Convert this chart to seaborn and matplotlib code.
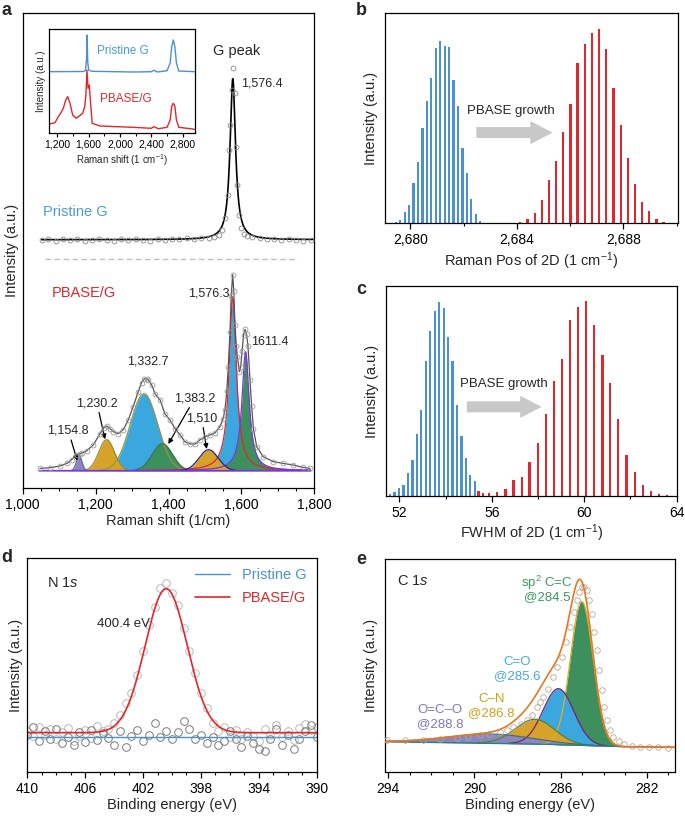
import numpy as np
import matplotlib
matplotlib.use('Agg')
import matplotlib.pyplot as plt
from matplotlib.patches import FancyArrow
from matplotlib.ticker import FuncFormatter, MultipleLocator, FixedLocator
import seaborn as sns

# 1. Style ----------------------------------------------------------------------
sns.set_style('ticks')
plt.rcParams['font.family'] = ['Liberation Sans', 'DejaVu Sans']
plt.rcParams['mathtext.fontset'] = 'custom'
plt.rcParams['mathtext.rm'] = 'Liberation Sans'
plt.rcParams['mathtext.it'] = 'Liberation Sans:italic'
plt.rcParams['axes.linewidth'] = 0.9
plt.rcParams['axes.edgecolor'] = 'black'
plt.rcParams['xtick.color'] = 'black'
plt.rcParams['xtick.major.size'] = 4.5
plt.rcParams['xtick.minor.size'] = 2.5
plt.rcParams['xtick.major.width'] = 0.9
plt.rcParams['xtick.minor.width'] = 0.8
plt.rcParams['xtick.labelsize'] = 10
plt.rcParams['axes.labelsize'] = 10.5

BLUE = '#4a90d2'
RED = '#e2262b'
TXT_BLUE = '#4d9bd6'
F_BLUE = '#3aa7de'
F_GREEN = '#3d8f5e'
F_GOLD = '#d6a32a'
F_PURPLE = '#8b87bd'
GRAY_ARROW = '#c8c8c8'

# 2. Data -----------------------------------------------------------------------

# a: fitted Raman components of PBASE/G (centre, height, fwhm, shape)
A_POS = [1154.8, 1230.2, 1332.7, 1383.2, 1510.0, 1576.3, 1611.4]
A_HEIGHT = [15, 31, 77, 27, 21, 174, 119]
A_FWHM = [18, 50, 88, 65, 62, 24, 24]
A_SHAPE = ['g', 'g', 'g', 'g', 'g', 'l', 'l']
A_LABELS = ['1,154.8', '1,230.2', '1,332.7', '1,383.2', '1,510', '1,576.3', '1611.4']

# a: measured PBASE/G spectrum
PB_X = [1047.5, 1075, 1102, 1121, 1134, 1148, 1156, 1162, 1176, 1194, 1212, 1222,
        1231, 1240, 1249, 1262, 1276, 1290, 1303, 1317, 1326, 1334, 1340, 1345,
        1354, 1363, 1377, 1390, 1404, 1418, 1432, 1445, 1459, 1473, 1486, 1500,
        1514, 1528, 1541, 1550, 1555, 1560, 1564, 1568.7, 1572, 1576.1, 1579,
        1582.4, 1586, 1589, 1594.3, 1598, 1602, 1606, 1610, 1614, 1618, 1623.6,
        1628, 1633, 1642, 1660, 1688, 1715, 1742, 1770, 1788]
PB_Y = [2.3, 3, 4.7, 7.3, 11, 15.7, 17, 17.5, 20, 26, 37, 43,
        44.7, 42, 39, 37, 41, 51, 64, 79, 88, 92, 92, 90.7,
        85.7, 77, 70.7, 57, 50.7, 42, 35.7, 29, 26.7, 26.7, 30.7, 34,
        35.7, 38, 44, 52, 61, 80, 104, 139, 175, 196, 180,
        145.7, 125, 114, 99, 104, 120, 136, 141.3, 137, 125, 90.7,
        65, 42, 24, 14, 9, 7.3, 5.7, 3.3, 2.3]

# a: pristine graphene G band (fit) and measured points
PRIS_OFFSET = 231
PRIS_POS, PRIS_HEIGHT, PRIS_FWHM = 1576.4, 161, 18
PR_X = [1052, 1070, 1090, 1110, 1130, 1150, 1170, 1190, 1210, 1230, 1250, 1270,
        1290, 1310, 1330, 1350, 1370, 1390, 1410, 1430, 1450, 1470, 1490, 1510,
        1525, 1538, 1548, 1556, 1562, 1566, 1570, 1574, 1577.8, 1582.4, 1585,
        1588.7, 1593, 1598, 1606, 1616, 1630, 1650, 1670, 1690, 1710, 1730,
        1750, 1770, 1790]
PR_Y = [0, 1, -1, 1, 0, 1, -1, 0, 1, 0, -1, 1,
        0, 1, 0, -1, 1, 0, 1, 1, 2, 1, 2, 2,
        3, 5, 10, 22, 45, 90, 115, 150, 172, 147, 93,
        55, 25, 12, 6, 4, 3, 2, 1, 1, 0, 1,
        0, -1, 0]
SEP_Y = 212

# a inset: full spectra
IN_PR_X = [1100, 1530, 1560, 1572, 1580, 1588, 1600, 1640, 2170, 2400, 2430, 2450,
           2480, 2600, 2640, 2660, 2680, 2700, 2720, 2750, 2955]
IN_PR_Y = [68.3, 68.5, 69.5, 80, 105, 78, 70, 68.7, 68, 68.3, 69.7, 69,
           68, 69.3, 77, 93.3, 100, 93.3, 77, 69, 68.3]
IN_PB_X = [1100, 1170, 1213, 1247, 1277, 1307, 1333, 1362, 1396, 1440, 1480, 1524,
           1550, 1565, 1578, 1592, 1608, 1625, 1645, 1745, 2160, 2400, 2430, 2490,
           2600, 2640, 2660, 2680, 2700, 2720, 2750, 2955]
IN_PB_Y = [16, 17.3, 23.3, 27.3, 31.7, 40, 43.3, 36.7, 25, 21.7, 24, 26.7,
           33.3, 45, 70, 51.7, 55, 36.7, 16.7, 14, 12.7, 11.7, 13.3, 11.3,
           12.7, 20, 34, 36.7, 34, 20, 12.7, 10.7]

# b: 2D position histograms
B_PR_POS = [2679.29, 2679.46, 2679.62, 2679.79, 2679.96, 2680.12, 2680.29, 2680.46,
            2680.62, 2680.79, 2680.96, 2681.12, 2681.29, 2681.46, 2681.62, 2681.79,
            2681.96, 2682.12, 2682.29, 2682.46, 2682.62, 2682.79]
B_PR_CNT = [3, 6, 12, 35, 55, 122, 186, 288, 368, 438, 526, 548, 532, 530, 431, 353,
            226, 152, 73, 28, 8, 1]
B_PB_POS = [2683.86, 2684.13, 2684.40, 2684.67, 2684.94, 2685.21, 2685.47, 2685.74,
            2686.01, 2686.28, 2686.55, 2686.82, 2687.09, 2687.36, 2687.63, 2687.90,
            2688.17, 2688.43, 2688.70, 2688.97, 2689.24, 2689.51, 2689.78]
B_PB_CNT = [2, 4, 13, 33, 71, 130, 188, 276, 358, 483, 538, 571, 583, 523, 408, 296,
            198, 118, 66, 38, 15, 6, 2]

# c: 2D FWHM histograms
C_PR_POS = [51.60, 51.79, 51.99, 52.18, 52.37, 52.57, 52.76, 52.95, 53.14, 53.34,
            53.53, 53.72, 53.92, 54.11, 54.30, 54.50, 54.69, 54.88, 55.07, 55.27]
C_PR_CNT = [5, 11, 25, 32, 70, 109, 187, 259, 405, 493, 554, 582, 562, 477, 405, 274,
            179, 114, 62, 44]
C_PB_POS = [55.42, 55.62, 55.88, 56.24, 56.59, 56.94, 57.30, 57.64, 57.99, 58.34,
            58.68, 59.03, 59.39, 59.74, 60.08, 60.43, 60.79, 61.13, 61.48, 61.84,
            62.19, 62.54, 62.88, 63.23, 63.58]
C_PB_CNT = [15, 8, 8, 13, 20, 48, 57, 101, 158, 247, 345, 411, 528, 565, 583, 512,
            421, 339, 231, 123, 71, 33, 16, 5, 2]

# d: N 1s XPS
D_BE = list(np.round(np.arange(410.0, 389.9, -0.4), 1))
D_PB_Y = [2, -3, 6, -2, 4, -6, 1, 5, -8, -3, 3, -5, 7, 2, 4, 10, 18, 30, 40, 58, 82,
          108, 126, 145, 150, 140, 128, 105, 82, 60, 40, 25, 10, 2, 6, -4, 3, -6, 1,
          -3, -8, 4, -2, 8, -4, 2, -7, 5, 9, 3, 6]
D_PR_Y = [-2, 6, -8, 2, -6, 4, -10, -4, -12, 1, -9, 3, -7, 0, -5, -12, 2, -14, -3, 3,
          -8, -2, 10, -4, 2, -6, 1, 12, 4, -6, -2, -10, -4, -12, -8, 2, -6, -14, -3,
          -10, -16, -18, -6, 4, -12, -2, -16, -6, 2, 8, -4]
D_POS, D_HEIGHT, D_SIGMA = 400.4, 144, 1.45
D_PR_LEVEL = -4
D_TICKS = [410, 406, 402, 398, 394, 390]

# e: C 1s XPS components (centre, height, half width at half max)
E_NAMES = ['O=C–O', 'C–N', 'C=O', 'sp$^2$ C=C']
E_POS = [289.28, 287.19, 286.10, 285.02]
E_HEIGHT = [9.3, 24.7, 56, 144]
E_HWHM = [2.3, 1.07, 0.84, 0.62]
E_TAGS = ['@288.8', '@286.8', '@285.6', '@284.5']
E_BG_BE = [294.15, 287.1, 283.1, 280.7]
E_BG_Y = [5.6, 3.3, 0.6, 0.0]
E_DATA_BE = [294.07, 293.2, 292.37, 291.6, 290.82, 290.3, 289.74, 289.3, 288.81,
             288.5, 288.19, 287.85, 287.57, 287.35, 287.11, 286.95, 286.80, 286.6,
             286.34, 286.15, 285.95, 285.75, 285.56, 285.4, 285.25, 285.13, 285.02,
             284.9, 284.79, 284.67, 284.55, 284.43, 284.32, 284.2, 284.09, 283.97,
             283.86, 283.7, 283.55, 283.3, 283.08, 282.7, 282.31, 281.9, 281.5,
             281.0]
E_DATA_Y = [7, 7.5, 7.7, 8.5, 9.7, 10.5, 12, 13.5, 15.3,
            17.5, 20.3, 23, 27, 32, 40.3, 45, 50.3, 58,
            70.3, 80, 90.3, 105, 120.3, 135, 147, 155, 160.3,
            160, 157, 147, 133.7, 115, 97, 77, 57, 40,
            27, 17, 10.3, 6, 3, 1.5, 0.3, 0.5, 0,
            -1]
E_TICKS = [294, 290, 286, 282]


def gauss(x, c, h, fwhm):
    return h * np.exp(-4 * np.log(2) * ((x - c) / fwhm) ** 2)


def lorentz(x, c, h, fwhm):
    return h / (1 + ((x - c) / (fwhm / 2)) ** 2)


def comma(v, p):
    return f'{v:,.0f}'


# 3. Figure ---------------------------------------------------------------------
W, H = 685, 819
fig = plt.figure(figsize=(W / 100, H / 100), dpi=100)


def box(l, t, r, b):
    return [l / W, 1 - b / H, (r - l) / W, (b - t) / H]


def letter(x, y, s):
    fig.text(x / W, 1 - y / H, s, fontsize=13, fontweight='bold', va='top', ha='left')


def bottom_ticks(ax):
    ax.tick_params(axis='x', which='both', direction='out', top=False, bottom=True, pad=2.5)
    ax.tick_params(axis='y', which='both', left=False, right=False, labelleft=False)


# ---- panel a
ax = fig.add_axes(box(22.7, 13, 314.3, 488))
xa = np.linspace(1045, 1790, 1500)
comps = []
for c, h, w, s in zip(A_POS, A_HEIGHT, A_FWHM, A_SHAPE):
    comps.append(gauss(xa, c, h, w) if s == 'g' else lorentz(xa, c, h, w))
fills = [F_PURPLE, F_GOLD, F_BLUE, F_GREEN, F_GOLD, F_BLUE, F_GREEN]
edges = ['#6c6a9c', '#9a8a30', '#8c9a40', '#3f6e46', '#23238f', RED, '#7d34e0']
for i in [2, 1, 3, 0, 5, 6, 4]:
    ax.fill_between(xa, 0, comps[i], color=fills[i], lw=0, zorder=2)
    ax.plot(xa, np.ma.masked_less(comps[i], 0.4), color=edges[i], lw=0.9, zorder=2.5)
sns.lineplot(x=xa, y=np.zeros_like(xa), ax=ax, color='#7d34e0', lw=1.2, zorder=3)
sns.lineplot(x=PB_X, y=PB_Y, ax=ax, color='#555555', lw=0.9, zorder=4,
             estimator=None, sort=False)
sns.lineplot(x=PB_X, y=PB_Y, ax=ax, marker='o', ls='', mfc='none', mec='#9a9a9a',
             ms=3.5, mew=0.6, zorder=5, estimator=None, sort=False)

xp = np.linspace(1052, 1800, 1500)
sns.lineplot(x=xp, y=PRIS_OFFSET + lorentz(xp, PRIS_POS, PRIS_HEIGHT, PRIS_FWHM), ax=ax,
             color='black', lw=1.2, zorder=4)
sns.lineplot(x=PR_X, y=np.array(PR_Y) + PRIS_OFFSET, ax=ax, marker='o', ls='', mfc='none',
             mec='#8a8a8a', ms=3.5, mew=0.6, zorder=5, estimator=None, sort=False)
ax.plot([1061, 1756], [SEP_Y, SEP_Y], color='#c0c0c0', lw=1.0, ls=(0, (4, 2.5)))

ax.text(1055.7, 258.7, 'Pristine G', color=TXT_BLUE, fontsize=10.5, va='center')
ax.text(1079.6, 177.4, 'PBASE/G', color=RED, fontsize=10.5, va='center')
ax.text(1522, 419.7, 'G peak', fontsize=10.5, va='center')
ax.text(1598.9, 386.7, '1,576.4', fontsize=9, va='center')
ax.text(1568.7, 177.4, A_LABELS[5], fontsize=9, va='center', ha='right')
ax.text(1625.5, 129, A_LABELS[6], fontsize=9, va='center')
ax.text(1344.6, 109, A_LABELS[2], fontsize=9, va='center', ha='center')
arr = dict(arrowstyle='-|>', color='black', lw=0.9, mutation_scale=7, shrinkA=0, shrinkB=0)
ax.annotate(A_LABELS[0], xy=(1149.8, 10), xytext=(1125.1, 40), fontsize=9,
            ha='center', va='center', arrowprops=arr)
ax.annotate(A_LABELS[1], xy=(1225.8, 31.4), xytext=(1203.8, 67.4), fontsize=9,
            ha='center', va='center', arrowprops=arr)
ax.annotate(A_LABELS[3], xy=(1399.5, 26.7), xytext=(1471.9, 72.4), fontsize=9,
            ha='center', va='center', arrowprops=arr)
ax.annotate(A_LABELS[4], xy=(1504.8, 21.7), xytext=(1491.1, 52.4), fontsize=9,
            ha='center', va='center', arrowprops=arr)

ax.set_xlim(1000, 1800)
ax.set_ylim(-17.3, 457.7)
ax.xaxis.set_major_locator(MultipleLocator(200))
ax.xaxis.set_minor_locator(MultipleLocator(50))
ax.xaxis.set_major_formatter(FuncFormatter(comma))
bottom_ticks(ax)
ax.set_xlabel('Raman shift (1/cm)', labelpad=2)
ax.set_ylabel('Intensity (a.u.)', labelpad=3)

# ---- panel a inset
axi = fig.add_axes(box(49, 29, 195, 133))
sns.lineplot(x=IN_PR_X, y=IN_PR_Y, ax=axi, color=BLUE, lw=1.0, estimator=None, sort=False)
sns.lineplot(x=IN_PB_X, y=IN_PB_Y, ax=axi, color=RED, lw=1.0, estimator=None, sort=False)
axi.text(1711, 89.3, 'Pristine G', color=TXT_BLUE, fontsize=8.5, va='center')
axi.text(1750, 41, 'PBASE/G', color=RED, fontsize=8.5, va='center')
axi.set_xlim(1094, 2957)
axi.set_ylim(7, 111)
axi.xaxis.set_major_locator(MultipleLocator(400))
axi.xaxis.set_minor_locator(MultipleLocator(200))
axi.xaxis.set_major_formatter(FuncFormatter(comma))
bottom_ticks(axi)
axi.tick_params(axis='x', which='major', labelsize=7.5, length=3, pad=1.5)
axi.tick_params(axis='x', which='minor', length=1.8)
axi.set_xlabel('Raman shift (1 cm$^{-1}$)', fontsize=7, labelpad=2)
axi.set_ylabel('Intensity (a.u.)', fontsize=7, labelpad=2)

# ---- panel b
ax = fig.add_axes(box(385, 13, 678, 223.5))
ax.bar(B_PR_POS, B_PR_CNT, width=0.08, color=BLUE, lw=0)
ax.bar(B_PB_POS, B_PB_CNT, width=0.085, color=RED, lw=0)
ax.add_patch(FancyArrow(2682.48, 273, 2.86, 0, width=33, head_width=69, head_length=0.83,
                        length_includes_head=True, color=GRAY_ARROW, lw=0))
ax.text(2682.14, 339, 'PBASE growth', fontsize=9.5, va='center')
ax.set_xlim(2679.05, 2690.05)
ax.set_ylim(0, 632)
ax.xaxis.set_major_locator(MultipleLocator(4))
ax.xaxis.set_minor_locator(MultipleLocator(2))
ax.xaxis.set_major_formatter(FuncFormatter(comma))
bottom_ticks(ax)
ax.set_xlabel('Raman Pos of 2D (1 cm$^{-1}$)', labelpad=2)
ax.set_ylabel('Intensity (a.u.)', labelpad=5)

# ---- panel c
ax = fig.add_axes(box(386, 286, 677, 496))
ax.bar(C_PR_POS, C_PR_CNT, width=0.095, color=BLUE, lw=0)
ax.bar(C_PB_POS, C_PB_CNT, width=0.1, color=RED, lw=0)
ax.add_patch(FancyArrow(54.92, 267, 3.24, 0, width=33, head_width=66, head_length=0.93,
                        length_includes_head=True, color=GRAY_ARROW, lw=0))
ax.text(54.63, 335, 'PBASE growth', fontsize=9.5, va='center')
ax.set_xlim(51.42, 64.02)
ax.set_ylim(0, 629)
ax.xaxis.set_major_locator(MultipleLocator(4))
ax.xaxis.set_minor_locator(MultipleLocator(2))
bottom_ticks(ax)
ax.set_xlabel('FWHM of 2D (1 cm$^{-1}$)', labelpad=2)
ax.set_ylabel('Intensity (a.u.)', labelpad=5)

# ---- panel d
ax = fig.add_axes(box(27.3, 558, 316.7, 772))
sns.lineplot(x=D_BE, y=D_PB_Y, ax=ax, marker='o', ls='', mfc='none', mec='#b8b8b8',
             ms=5.5, mew=0.7, estimator=None, sort=False)
sns.lineplot(x=D_BE, y=D_PR_Y, ax=ax, marker='o', ls='', mfc='none', mec='#7a7a7a',
             ms=5.5, mew=0.7, estimator=None, sort=False)
xd = np.linspace(410, 390, 800)
sns.lineplot(x=xd, y=np.full_like(xd, D_PR_LEVEL), ax=ax, color=BLUE, lw=1.0,
             label='Pristine G', sort=False)
sns.lineplot(x=xd, y=D_HEIGHT * np.exp(-0.5 * ((xd - D_POS) / D_SIGMA) ** 2), ax=ax,
             color=RED, lw=1.2, label='PBASE/G', sort=False)
leg = ax.legend(loc='upper right', frameon=False, fontsize=10.5, handlelength=2.4,
                labelcolor='linecolor', borderaxespad=0.3, labelspacing=0.6)
ax.text(408.64, 149.7, 'N 1$s$', fontsize=10.5, va='center')
ax.text(405.18, 108.7, '400.4 eV', fontsize=9.5, va='center')
ax.set_xlim(410, 390)
ax.set_ylim(-39.3, 174.7)
ax.xaxis.set_major_locator(FixedLocator(D_TICKS))
ax.xaxis.set_minor_locator(MultipleLocator(1))
bottom_ticks(ax)
ax.set_xlabel('Binding energy (eV)', labelpad=2)
ax.set_ylabel('Intensity (a.u.)', labelpad=3)

# ---- panel e
ax = fig.add_axes(box(385, 559, 675, 772))
xe = np.linspace(294.15, 280.7, 1200)
bg = np.interp(xe, E_BG_BE[::-1], E_BG_Y[::-1])
ecomp = [E_HEIGHT[i] * np.exp(-np.log(2) * ((xe - E_POS[i]) / E_HWHM[i]) ** 2)
         for i in range(4)]
e_fill = [F_PURPLE, F_GOLD, F_BLUE, F_GREEN]
e_edge = ['#3f6e7a', '#5d7f3a', '#7a1f7a', '#e0b020']
for i in [3, 2, 1, 0]:
    ax.fill_between(xe, bg, bg + ecomp[i], color=e_fill[i], lw=0, zorder=2)
    ax.plot(xe, np.ma.masked_where(ecomp[i] < 0.3, bg + ecomp[i]), color=e_edge[i],
            lw=0.9, zorder=2.5)
sns.lineplot(x=xe, y=bg, ax=ax, color='#2a7f7f', lw=1.0, zorder=3, sort=False)
sns.lineplot(x=E_DATA_BE, y=E_DATA_Y, ax=ax, marker='o', ls='', mfc='none', mec='#b5a898',
             ms=4, mew=0.6, zorder=4, estimator=None, sort=False)
sns.lineplot(x=xe, y=bg + np.sum(ecomp, axis=0), ax=ax, color='#e87722', lw=1.2,
             zorder=5, sort=False)
e_cols = ['#7d78c2', '#d4a017', '#48a8dc', '#3a9a5b']
e_lab_x = [291.6, 289.2, 288.02, 286.63]
e_lab_y = [37.3, 48, 85.3, 164.3]
for i in range(4):
    ax.text(e_lab_x[i], e_lab_y[i], E_NAMES[i], color=e_cols[i], fontsize=9.5,
            ha='center', va='center')
    ax.text(e_lab_x[i], e_lab_y[i] - 14, E_TAGS[i], color=e_cols[i], fontsize=9.5,
            ha='center', va='center')
ax.text(293.6, 166.6, 'C 1$s$', fontsize=10.5, va='center')
ax.set_xlim(294.15, 280.69)
ax.set_ylim(-24.7, 188.3)
ax.xaxis.set_major_locator(FixedLocator(E_TICKS))
ax.xaxis.set_minor_locator(MultipleLocator(1))
bottom_ticks(ax)
ax.set_xlabel('Binding energy (eV)', labelpad=2)
ax.set_ylabel('Intensity (a.u.)', labelpad=5)

letter(1, 2, 'a')
letter(356, 2, 'b')
letter(356, 281, 'c')
letter(1, 549, 'd')
letter(356, 551, 'e')

fig.savefig('out.png', dpi=100)
